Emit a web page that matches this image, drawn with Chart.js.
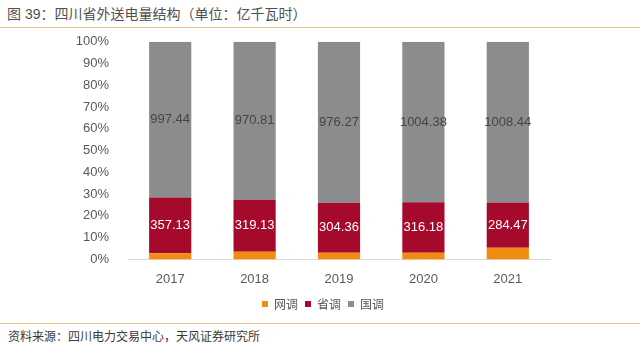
<!DOCTYPE html>
<html>
<head>
<meta charset="utf-8">
<script src="https://cdn.jsdelivr.net/npm/chart.js@4.4.0/dist/chart.umd.min.js"></script>
<style>
  body { margin: 0; background: #fff; width: 640px; height: 347px; position: relative; overflow: hidden;
         font-family: "Liberation Sans", "Noto Sans CJK SC", sans-serif; }
  #title { position: absolute; left: 7px; top: 3px; font-size: 14px; color: #505050; }
  .rule { position: absolute; left: 0; width: 640px; height: 1px; background: #e9c892; }
  #foot { position: absolute; left: 8px; top: 327px; font-size: 12px; color: #3a3a3a; }
  #wrap { position: absolute; left: 40px; top: 23px; width: 566px; height: 297px; }
</style>
</head>
<body>
<div id="title">图 39：四川省外送电量结构（单位：亿千瓦时）</div>
<div class="rule" style="top:27px"></div>
<div id="wrap"><canvas id="chart"></canvas></div>
<div class="rule" style="top:323px"></div>
<div id="foot">资料来源：四川电力交易中心，天风证券研究所</div>
<script>
const years = ['2017', '2018', '2019', '2020', '2021'];
// 网调 not labelled in the picture
const wangTiao = [40, 47, 40, 41, 73];
const shengTiao = [357.13, 319.13, 304.36, 316.18, 284.47];
const guoTiao = [997.44, 970.81, 976.27, 1004.38, 1008.44];

const totals = years.map((y, i) => wangTiao[i] + shengTiao[i] + guoTiao[i]);
const pct = arr => arr.map((v, i) => v / totals[i] * 100);

// draws the raw values in the middle of the 省调 and 国调 segments
const valueLabels = {
  id: 'valueLabels',
  afterDatasetsDraw(chart) {
    const ctx = chart.ctx;
    ctx.save();
    ctx.font = '13px "Liberation Sans", Arial, sans-serif';
    ctx.textAlign = 'center';
    ctx.textBaseline = 'middle';
    chart.data.datasets.forEach((ds, di) => {
      if (!ds.raw) return;
      const meta = chart.getDatasetMeta(di);
      meta.data.forEach((bar, i) => {
        ctx.fillStyle = ds.labelColor;
        ctx.fillText(ds.raw[i].toFixed(2), bar.x, (bar.y + bar.base) / 2);
      });
    });
    ctx.restore();
  }
};

new Chart(document.getElementById('chart'), {
  type: 'bar',
  data: {
    labels: years,
    datasets: [
      { label: '网调', data: pct(wangTiao), backgroundColor: '#f28c10' },
      { label: '省调', data: pct(shengTiao), backgroundColor: '#a50a2d', raw: shengTiao, labelColor: '#ffffff' },
      { label: '国调', data: pct(guoTiao), backgroundColor: '#8b8c8e', raw: guoTiao, labelColor: '#454545' }
    ]
  },
  options: {
    responsive: true,
    maintainAspectRatio: false,
    animation: false,
    datasets: { bar: { categoryPercentage: 1, barPercentage: 0.5 } },
    layout: { padding: { left: 0, right: 0, top: 4, bottom: 0 } },
    scales: {
      x: {
        stacked: true,
        grid: { display: false },
        border: { color: '#d9d9d9', width: 1 },
        ticks: { color: '#595959', font: { size: 13, family: '"Liberation Sans", Arial, sans-serif' }, padding: 4 }
      },
      y: {
        stacked: true,
        min: 0,
        max: 100,
        grid: { display: false },
        border: { display: false },
        afterFit: s => { s.width = 88; },
        ticks: {
          stepSize: 10,
          color: '#595959',
          padding: 11,
          font: { size: 13, family: '"Liberation Sans", Arial, sans-serif' },
          callback: v => v + '%'
        }
      },
      // empty right-hand axis, only reserves the gap right of the bars
      yRight: {
        position: 'right',
        grid: { display: false },
        border: { display: false },
        ticks: { display: false },
        afterFit: s => { s.width = 56; }
      }
    },
    plugins: {
      legend: {
        position: 'bottom',
        labels: {
          boxWidth: 6,
          boxHeight: 6,
          padding: 7,
          color: '#595959',
          font: { size: 12, family: '"Noto Sans CJK SC", sans-serif' }
        }
      },
      tooltip: { enabled: false }
    }
  },
  plugins: [valueLabels]
});
</script>
</body>
</html>
